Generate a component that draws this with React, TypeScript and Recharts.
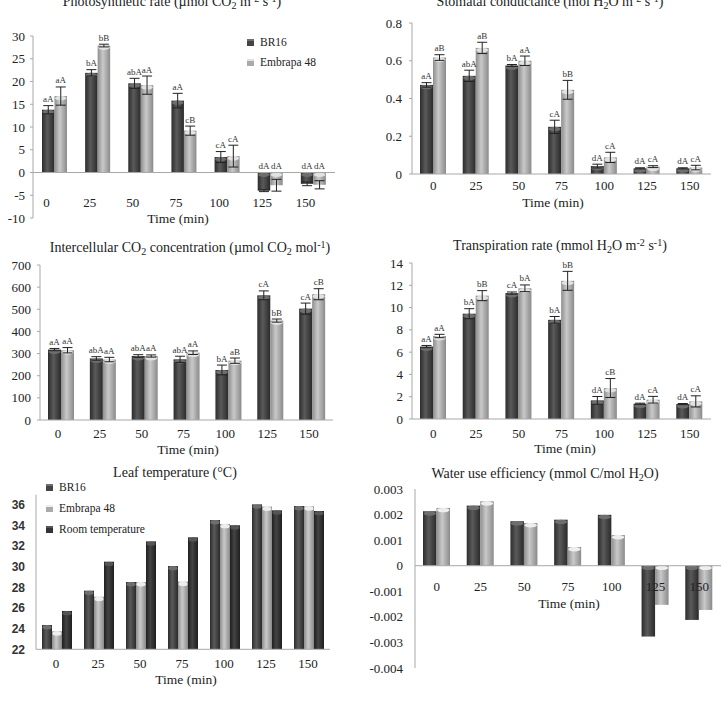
import React from 'react';
import { BarChart, Bar, XAxis, YAxis, ErrorBar, LabelList, ReferenceLine, Legend } from 'recharts';

const SERIF = '"Liberation Serif", "Times New Roman", serif';
const SANS = '"Liberation Sans", Arial, sans-serif';

const times = ['0', '25', '50', '75', '100', '125', '150'];

// Photosynthetic rate
const photoBR16 = [13.8, 21.9, 19.6, 15.8, 3.4, -4.0, -2.5];
const photoBR16Err = [0.9, 0.7, 1.1, 1.6, 1.2, 0.2, 0.4];
const photoBR16Letters = ['aA', 'bA', 'abA', 'aA', 'cA', 'dA', 'dA'];
const photoEmb = [16.8, 27.9, 19.2, 9.2, 3.6, -2.8, -2.7];
const photoEmbErr = [2.0, 0.3, 2.0, 1.0, 2.4, 1.3, 0.9];
const photoEmbLetters = ['aA', 'bB', 'aA', 'cB', 'cA', 'dA', 'dA'];
const photoTicks = [-10, -5, 0, 5, 10, 15, 20, 25, 30];

// Stomatal conductance
const condBR16 = [0.472, 0.52, 0.575, 0.25, 0.042, 0.03, 0.03];
const condBR16Err = [0.012, 0.03, 0.005, 0.035, 0.01, 0.003, 0.003];
const condBR16Letters = ['aA', 'abA', 'bA', 'cA', 'dA', 'dA', 'dA'];
const condEmb = [0.617, 0.668, 0.6, 0.446, 0.088, 0.039, 0.034];
const condEmbErr = [0.015, 0.03, 0.025, 0.05, 0.027, 0.005, 0.012];
const condEmbLetters = ['aB', 'aB', 'aA', 'bB', 'cA', 'cA', 'cA'];
const condTicks = [0, 0.2, 0.4, 0.6, 0.8];

// Intercellular CO2
const ciBR16 = [318, 278, 289, 274, 226, 563, 503];
const ciBR16Err = [5, 8, 6, 14, 22, 20, 25];
const ciBR16Letters = ['aA', 'abA', 'abA', 'abA', 'bA', 'cA', 'cA'];
const ciEmb = [315, 273, 289, 304, 268, 449, 568];
const ciEmbErr = [12, 10, 5, 8, 12, 7, 25];
const ciEmbLetters = ['aA', 'aA', 'aA', 'aA', 'aB', 'bB', 'cB'];
const ciTicks = [0, 100, 200, 300, 400, 500, 600, 700];

// Transpiration
const trBR16 = [6.5, 9.45, 11.3, 8.9, 1.67, 1.37, 1.34];
const trBR16Err = [0.1, 0.45, 0.1, 0.3, 0.35, 0.05, 0.05];
const trBR16Letters = ['aA', 'bA', 'cA', 'bA', 'dA', 'dA', 'dA'];
const trEmb = [7.45, 11.07, 11.73, 12.4, 2.78, 1.73, 1.58];
const trEmbErr = [0.15, 0.45, 0.3, 0.85, 0.85, 0.3, 0.5];
const trEmbLetters = ['aA', 'bB', 'bA', 'bB', 'cB', 'cA', 'cA'];
const trTicks = [0, 2, 4, 6, 8, 10, 12, 14];

// Leaf temperature
const leafBR16 = [24.36, 27.69, 28.53, 30.08, 34.54, 36.06, 35.9];
const leafEmb = [23.75, 27.1, 28.53, 28.56, 34.16, 35.84, 35.87];
const leafRoom = [25.72, 30.5, 32.47, 32.86, 34.03, 35.48, 35.42];
const leafTicks = [22, 24, 26, 28, 30, 32, 34, 36];

// Water use efficiency
const wueBR16 = [0.00213, 0.00235, 0.00174, 0.0018, 0.00199, -0.00277, -0.00212];
const wueEmb = [0.00226, 0.00252, 0.00167, 0.00073, 0.0012, -0.00153, -0.00173];
const wueTicks = [-0.004, -0.003, -0.002, -0.001, 0, 0.001, 0.002, 0.003];

type Series = {
  key: string;
  name: string;
  values: number[];
  errs?: number[];
  letters?: string[];
  grad: [string, string, string];
  cap: string;
  legendColor: string;
};

type Cfg = {
  id: string;
  left: number;
  top: number;
  width: number;
  height: number;
  margin: { top: number; right: number; bottom: number; left: number };
  yWidth: number;
  yDomain: [number, number];
  yTicks: number[];
  yFmt: (v: number) => string;
  yTickSize: number;
  yTickMargin: number;
  yTickStyle: any;
  barSize: number;
  tickDx: number;
  tickDy: number;
  zeroLine: boolean;
  series: Series[];
  legend?: { left: number; top: number; rowH: number; fontSize: number };
};

const DARK: [string, string, string] = ['#2c2c2c', '#5a5a5a', '#2a2a2a'];
const LIGHT: [string, string, string] = ['#8e8e8e', '#c9c9c9', '#8a8a8a'];
const DARKEST: [string, string, string] = ['#1f1f1f', '#444444', '#1e1e1e'];

function makeLetterLabel(values: number[], errs: number[], letters: string[]) {
  return (props: any) => {
    const vb = props.viewBox || {};
    const x = Number(vb.x ?? props.x);
    const y = Number(vb.y ?? props.y);
    const w = Number(vb.width ?? props.width);
    const h = Number(vb.height ?? props.height);
    const i = props.index;
    const v = values[i];
    if (!isFinite(x) || !isFinite(y) || !isFinite(h) || !v) return null;
    const top = Math.min(y, y + h);
    const ppu = Math.abs(h) / Math.abs(v);
    const errPx = v > 0 ? (errs[i] || 0) * ppu : 0;
    return (
      <text x={x + w / 2} y={top - errPx - 3.5} textAnchor="middle" fontSize={9} fontFamily={SERIF} fill="#333">
        {letters[i]}
      </text>
    );
  };
}

function makeShape(cap: string) {
  return (p: any) => {
    const x = Number(p.x);
    const y = Number(p.y);
    const w = Number(p.width);
    const h = Number(p.height);
    if (!isFinite(x) || !isFinite(y) || !isFinite(h) || !w) return <g />;
    const top = Math.min(y, y + h);
    const hh = Math.abs(h);
    const ry = Math.min(2.2, hh / 2);
    return (
      <g>
        <rect x={x} y={top} width={w} height={hh} fill={p.fill} />
        {hh > 1.5 && <ellipse cx={x + w / 2} cy={top + ry} rx={w / 2 - 0.5} ry={ry} fill={cap} />}
      </g>
    );
  };
}

function makeTick(dx: number, dy: number) {
  return (p: any) => (
    <text x={p.x + dx} y={p.y + dy} textAnchor="middle" fontSize={13} fontFamily={SERIF} fill="#222">
      {p.payload.value}
    </text>
  );
}

function makeLegend(series: Series[], rowH: number, fontSize: number) {
  return (props: any) => {
    const payload = props.payload || [];
    return (
      <div style={{ fontFamily: SERIF, fontSize, color: '#222' }}>
        {payload.map((e: any) => {
          const s = series.find((q) => q.name === e.value);
          return (
            <div key={e.value} style={{ display: 'flex', alignItems: 'center', height: rowH, whiteSpace: 'nowrap' }}>
              <span
                style={{
                  display: 'inline-block',
                  width: 7,
                  height: 7,
                  marginRight: 6,
                  background: s ? s.legendColor : '#555',
                  borderTop: `2px solid ${s ? s.cap : '#888'}`,
                  boxSizing: 'border-box',
                }}
              />
              {e.value}
            </div>
          );
        })}
      </div>
    );
  };
}

function Panel({ cfg }: { cfg: Cfg }) {
  const data = times.map((t, i) => {
    const row: any = { t };
    cfg.series.forEach((s) => {
      row[s.key] = s.values[i];
      if (s.errs) row[s.key + 'Err'] = s.errs[i];
    });
    return row;
  });
  return (
    <div style={{ position: 'absolute', left: cfg.left, top: cfg.top }}>
      <BarChart
        width={cfg.width}
        height={cfg.height}
        data={data}
        margin={{ ...cfg.margin, bottom: cfg.margin.bottom - 1 }}
        barGap={0}
        barSize={cfg.barSize}
      >
        <defs>
          {cfg.series.map((s) => (
            <linearGradient key={s.key} id={`${cfg.id}-${s.key}`} x1="0" y1="0" x2="1" y2="0">
              <stop offset="0" stopColor={s.grad[0]} />
              <stop offset="0.42" stopColor={s.grad[1]} />
              <stop offset="1" stopColor={s.grad[2]} />
            </linearGradient>
          ))}
        </defs>
        <XAxis
          dataKey="t"
          height={1}
          interval={0}
          tickLine={false}
          tickSize={0}
          tickMargin={0}
          axisLine={cfg.zeroLine ? false : { stroke: '#a8a8a8' }}
          tick={makeTick(cfg.tickDx, cfg.tickDy)}
        />
        <YAxis
          type="number"
          width={cfg.yWidth}
          domain={cfg.yDomain}
          ticks={cfg.yTicks}
          interval={0}
          allowDataOverflow
          tickFormatter={cfg.yFmt}
          tickSize={cfg.yTickSize}
          tickMargin={cfg.yTickMargin}
          tickLine={cfg.yTickSize > 0 ? { stroke: '#a8a8a8' } : false}
          axisLine={{ stroke: '#a8a8a8' }}
          tick={cfg.yTickStyle}
        />
        {cfg.zeroLine && <ReferenceLine y={0} stroke="#a8a8a8" />}
        {cfg.series.map((s) => (
          <Bar
            key={s.key}
            dataKey={s.key}
            name={s.name}
            fill={`url(#${cfg.id}-${s.key})`}
            shape={makeShape(s.cap)}
            isAnimationActive={false}
          >
            {s.errs && <ErrorBar dataKey={s.key + 'Err'} width={5} stroke="#222" strokeWidth={1} direction="y" />}
            {s.errs && s.letters && <LabelList content={makeLetterLabel(s.values, s.errs, s.letters)} />}
          </Bar>
        ))}
        {cfg.legend && (
          <Legend
            layout="vertical"
            align="center"
            verticalAlign="middle"
            wrapperStyle={{ left: cfg.legend.left, top: cfg.legend.top, width: 150, height: 'auto' }}
            content={makeLegend(cfg.series, cfg.legend.rowH, cfg.legend.fontSize)}
          />
        )}
      </BarChart>
    </div>
  );
}

const serifTick = { fontSize: 13, fontFamily: SERIF, fill: '#222' };
const sansBoldTick = { fontSize: 12, fontFamily: SANS, fontWeight: 700, fill: '#333' };
const plain = (v: number) => String(v);

const panels: Cfg[] = [
  {
    id: 'p1', left: 0, top: 0, width: 363, height: 230,
    margin: { top: 36, right: 28, bottom: 12, left: 0 }, yWidth: 33,
    yDomain: [-10, 30], yTicks: photoTicks, yFmt: plain, yTickSize: 3, yTickMargin: 5, yTickStyle: serifTick,
    barSize: 12.5, tickDx: -8, tickDy: -11.5, zeroLine: true,
    series: [
      { key: 'br', name: 'BR16', values: photoBR16, errs: photoBR16Err, letters: photoBR16Letters, grad: DARK, cap: '#6e6e6e', legendColor: '#444' },
      { key: 'em', name: 'Embrapa 48', values: photoEmb, errs: photoEmbErr, letters: photoEmbLetters, grad: LIGHT, cap: '#e2e2e2', legendColor: '#aaa' },
    ],
    legend: { left: 247, top: 32, rowH: 20, fontSize: 11.5 },
  },
  {
    id: 'p2', left: 363, top: 0, width: 363, height: 230,
    margin: { top: 23, right: 15, bottom: 56, left: 9 }, yWidth: 40,
    yDomain: [0, 0.8], yTicks: condTicks, yFmt: (v) => (v === 0 ? '0' : v.toFixed(1)), yTickSize: 3, yTickMargin: 7, yTickStyle: serifTick,
    barSize: 13, tickDx: 0, tickDy: 15.5, zeroLine: false,
    series: [
      { key: 'br', name: 'BR16', values: condBR16, errs: condBR16Err, letters: condBR16Letters, grad: DARK, cap: '#6e6e6e', legendColor: '#444' },
      { key: 'em', name: 'Embrapa 48', values: condEmb, errs: condEmbErr, letters: condEmbLetters, grad: LIGHT, cap: '#e2e2e2', legendColor: '#aaa' },
    ],
  },
  {
    id: 'p3', left: 0, top: 230, width: 363, height: 230,
    margin: { top: 35, right: 30, bottom: 40, left: 2 }, yWidth: 38,
    yDomain: [0, 700], yTicks: ciTicks, yFmt: plain, yTickSize: 3, yTickMargin: 6, yTickStyle: serifTick,
    barSize: 13, tickDx: -3, tickDy: 17.5, zeroLine: false,
    series: [
      { key: 'br', name: 'BR16', values: ciBR16, errs: ciBR16Err, letters: ciBR16Letters, grad: DARK, cap: '#6e6e6e', legendColor: '#444' },
      { key: 'em', name: 'Embrapa 48', values: ciEmb, errs: ciEmbErr, letters: ciEmbLetters, grad: LIGHT, cap: '#e2e2e2', legendColor: '#aaa' },
    ],
  },
  {
    id: 'p4', left: 363, top: 230, width: 363, height: 230,
    margin: { top: 33, right: 15, bottom: 41, left: 9 }, yWidth: 40,
    yDomain: [0, 14], yTicks: trTicks, yFmt: plain, yTickSize: 3, yTickMargin: 6, yTickStyle: serifTick,
    barSize: 13, tickDx: 0, tickDy: 18.5, zeroLine: false,
    series: [
      { key: 'br', name: 'BR16', values: trBR16, errs: trBR16Err, letters: trBR16Letters, grad: DARK, cap: '#6e6e6e', legendColor: '#444' },
      { key: 'em', name: 'Embrapa 48', values: trEmb, errs: trEmbErr, letters: trEmbLetters, grad: LIGHT, cap: '#e2e2e2', legendColor: '#aaa' },
    ],
  },
  {
    id: 'p5', left: 0, top: 460, width: 363, height: 243,
    margin: { top: 34.7, right: 33, bottom: 53.7, left: 2 }, yWidth: 34,
    yDomain: [22, 37], yTicks: leafTicks, yFmt: plain, yTickSize: 0, yTickMargin: 11, yTickStyle: sansBoldTick,
    barSize: 10, tickDx: -1, tickDy: 18.2, zeroLine: false,
    series: [
      { key: 'br', name: 'BR16', values: leafBR16, grad: DARK, cap: '#6e6e6e', legendColor: '#444' },
      { key: 'em', name: 'Embrapa 48', values: leafEmb, grad: LIGHT, cap: '#eeeeee', legendColor: '#aaa' },
      { key: 'rm', name: 'Room temperature', values: leafRoom, grad: DARKEST, cap: '#555555', legendColor: '#333' },
    ],
    legend: { left: 46, top: 16.8, rowH: 21, fontSize: 11.5 },
  },
  {
    id: 'p6', left: 363, top: 460, width: 363, height: 243,
    margin: { top: 29, right: 5, bottom: 35, left: 4 }, yWidth: 48,
    yDomain: [-0.004, 0.003], yTicks: wueTicks, yFmt: (v) => (v === 0 ? '0' : v.toFixed(3)), yTickSize: 0, yTickMargin: 12, yTickStyle: serifTick,
    barSize: 13.5, tickDx: 0, tickDy: -77.5, zeroLine: true,
    series: [
      { key: 'br', name: 'BR16', values: wueBR16, grad: DARK, cap: '#6e6e6e', legendColor: '#444' },
      { key: 'em', name: 'Embrapa 48', values: wueEmb, grad: LIGHT, cap: '#eeeeee', legendColor: '#aaa' },
    ],
  },
];

const Sub = ({ children }: any) => (
  <sub style={{ fontSize: '0.72em', verticalAlign: '-0.3em', lineHeight: 0 }}>{children}</sub>
);
const Sup = ({ children }: any) => (
  <sup style={{ fontSize: '0.72em', verticalAlign: '0.4em', lineHeight: 0 }}>{children}</sup>
);

function Txt({ cx, baseline, size, children }: any) {
  return (
    <div
      style={{
        position: 'absolute',
        left: cx,
        top: baseline - 0.8375 * size,
        transform: 'translateX(-50%)',
        whiteSpace: 'nowrap',
        fontFamily: SERIF,
        fontSize: size,
        lineHeight: `${size}px`,
        color: '#222',
      }}
    >
      {children}
    </div>
  );
}

export default function App() {
  return (
    <div style={{ position: 'absolute', left: 0, top: 0, width: 726, height: 703, background: '#fff', overflow: 'hidden' }}>
      {panels.map((p) => (
        <Panel key={p.id} cfg={p} />
      ))}
      <Txt cx={172} baseline={6.5} size={14}>
        Photosynthetic rate (µmol CO<Sub>2</Sub> m<Sup>-2</Sup> s<Sup>-1</Sup>)
      </Txt>
      <Txt cx={550} baseline={6.5} size={14}>
        Stomatal conductance (mol H<Sub>2</Sub>O m<Sup>-2</Sup> s<Sup>-1</Sup>)
      </Txt>
      <Txt cx={190} baseline={252.3} size={14}>
        Intercellular CO<Sub>2</Sub> concentration (µmol CO<Sub>2</Sub> mol<Sup>-1</Sup>)
      </Txt>
      <Txt cx={560} baseline={250.7} size={14}>
        Transpiration rate (mmol H<Sub>2</Sub>O m<Sup>-2</Sup> s<Sup>-1</Sup>)
      </Txt>
      <Txt cx={175} baseline={477.3} size={14}>
        Leaf temperature (°C)
      </Txt>
      <Txt cx={545} baseline={478.3} size={14}>
        Water use efficiency (mmol C/mol H<Sub>2</Sub>O)
      </Txt>
      <Txt cx={178} baseline={223.5} size={13.5}>Time (min)</Txt>
      <Txt cx={553} baseline={207} size={13.5}>Time (min)</Txt>
      <Txt cx={188} baseline={454} size={13.5}>Time (min)</Txt>
      <Txt cx={565} baseline={453} size={13.5}>Time (min)</Txt>
      <Txt cx={186} baseline={684} size={13.5}>Time (min)</Txt>
      <Txt cx={569} baseline={608} size={13.5}>Time (min)</Txt>
    </div>
  );
}
